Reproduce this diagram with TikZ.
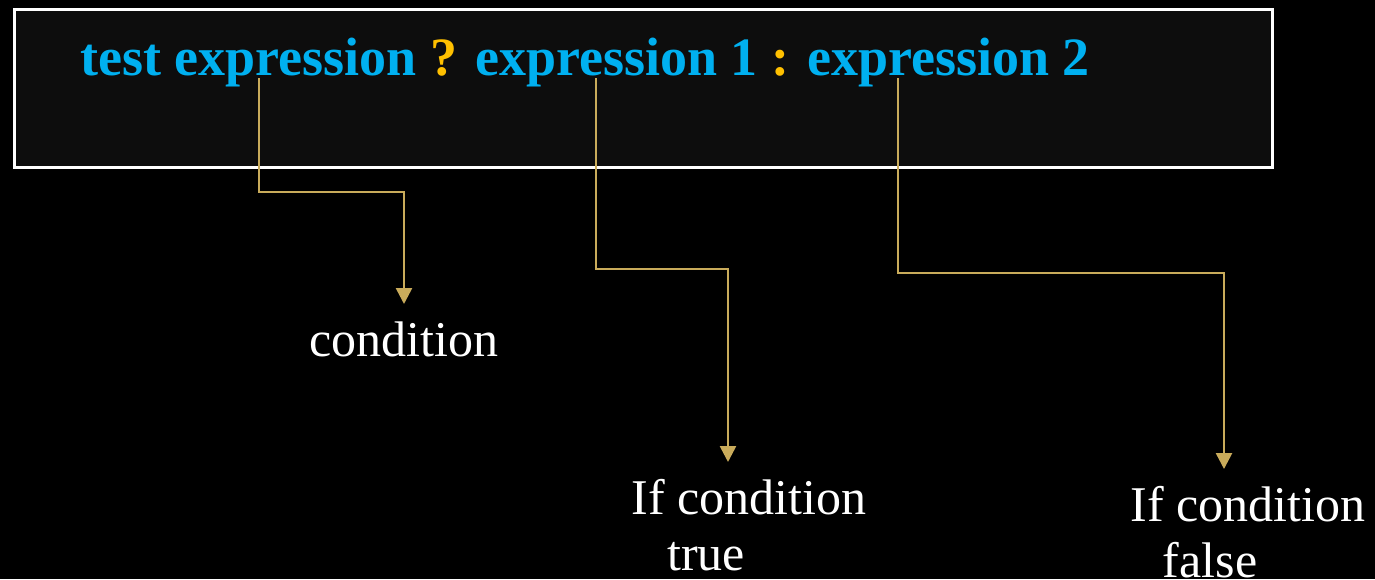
\documentclass[tikz,border=0pt]{standalone}
\usepackage{fontspec}
\setmainfont{Liberation Serif}
\usetikzlibrary{arrows.meta}
\definecolor{exprblue}{RGB}{0,176,240}
\definecolor{opgold}{RGB}{255,192,0}
\definecolor{linkgold}{RGB}{201,171,91}
\definecolor{panel}{RGB}{13,13,13}
\tikzset{
  conn/.style={draw=linkgold, line width=1.3pt,
    -{Triangle[length=8pt,width=8pt]}},
  lbl/.style={text=white, font=\fontsize{25}{28}\selectfont,
    align=center, anchor=north, inner xsep=0pt, inner ysep=8.5pt},
}
\begin{document}
\begin{tikzpicture}[x=0.5pt,y=-0.5pt]
  % canvas
  \fill[black] (0,0) rectangle (1375,579);
  \useasboundingbox (0,0) rectangle (1375,579);

  % code panel
  \node[draw=white, line width=1.5pt, fill=panel, inner sep=0pt,
        minimum width=629pt, minimum height=79pt, anchor=north west]
        (box) at (13,8) {};
  \node[anchor=base west, inner sep=0pt,
        font=\bfseries\fontsize{27}{30}\selectfont, text=exprblue]
        (expr) at (80,75)
        {test expression {\color{opgold}?} expression 1 {\color{opgold}:} expression 2};

  % connector start points under the three operands
  \coordinate (s1) at (259,78);
  \coordinate (s2) at (596,78);
  \coordinate (s3) at (898,78);

  % labels
  \node[lbl] (cond) at (404,304) {condition};
  \coordinate (a2) at (728,462);
  \node[lbl] (tr) at (749,462) {If condition\\true\hspace*{43pt}};
  \coordinate (a3) at (1224,469);
  \node[lbl] (fa) at (1248,469) {If condition\\false\hspace*{38pt}};

  % connectors
  \draw[conn] (s1) -- (259,192) -| (cond.north);
  \draw[conn] (s2) -- (596,269) -| (a2);
  \draw[conn] (s3) -- (898,273) -| (a3);
\end{tikzpicture}
\end{document}
